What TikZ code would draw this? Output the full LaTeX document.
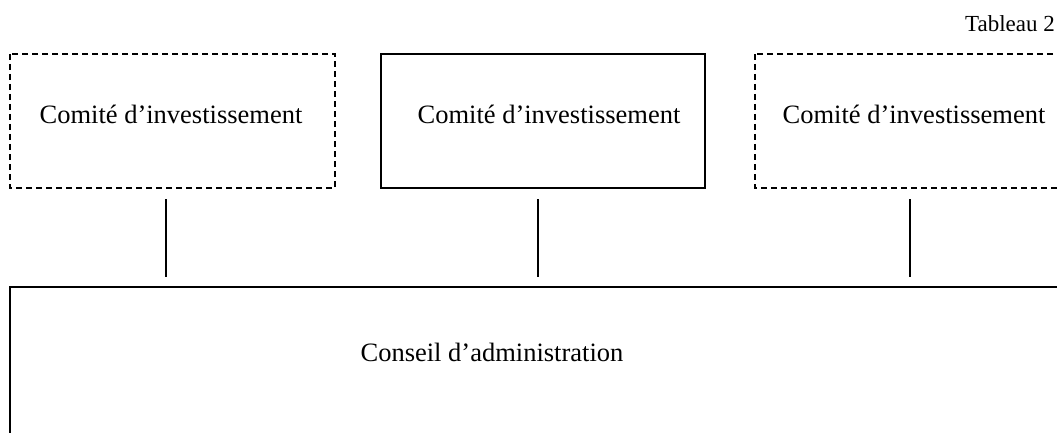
\documentclass[tikz,border=0pt]{standalone}
\usepackage{fontspec}
\setmainfont{Liberation Serif}
\begin{document}
\begin{tikzpicture}[x=1pt,y=-1pt,
  boxline/.style={line width=1.8pt},
  dashbox/.style={boxline,dash pattern=on 6pt off 4pt},
  lbl/.style={font=\fontsize{26.5}{30}\selectfont,inner sep=0pt},
  link/.style={line width=1.8pt}]
\useasboundingbox (0,0) rectangle (1057,433);
\draw[dashbox] (10,54) rectangle (335,188);
\draw[boxline] (381,54) rectangle (705,188);
\draw[dashbox] (755,54) rectangle (1090,188);
\draw[boxline] (10,460) -- (10,287) -- (1090,287);
\node[lbl] (c1) at (171,114) {Comité d’investissement};
\node[lbl] (c2) at (549,114) {Comité d’investissement};
\node[lbl] (c3) at (914,114) {Comité d’investissement};
\node[lbl] (ca) at (492,352) {Conseil d’administration};
\node[lbl,anchor=east,font=\fontsize{23}{27}\selectfont] (tab) at (1055,24) {Tableau 2};
\coordinate (a1) at (166,199); \coordinate (b1) at (166,277);
\coordinate (a2) at (538,199); \coordinate (b2) at (538,277);
\coordinate (a3) at (910,199); \coordinate (b3) at (910,277);
\draw[link] (a1) -- (b1);
\draw[link] (a2) -- (b2);
\draw[link] (a3) -- (b3);
\end{tikzpicture}
\end{document}
